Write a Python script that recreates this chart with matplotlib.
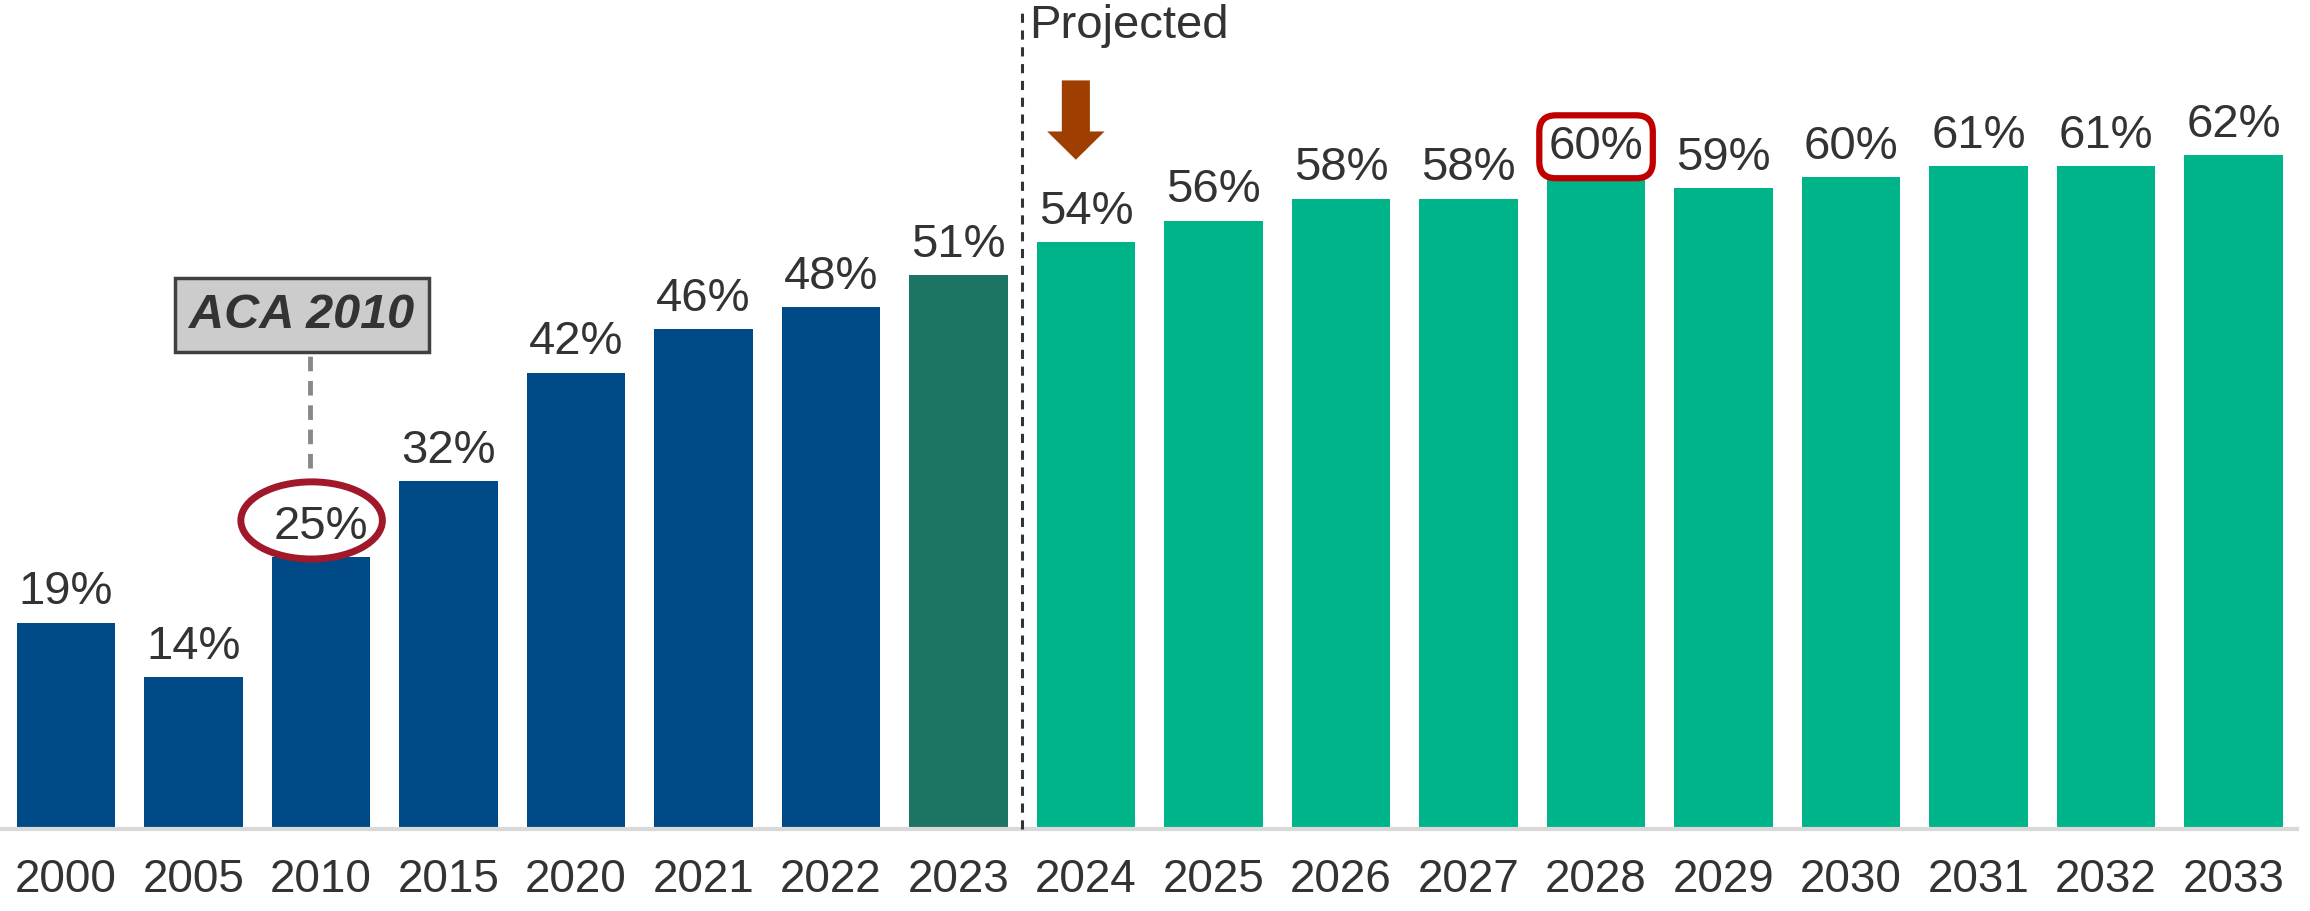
import matplotlib
matplotlib.use("Agg")
import matplotlib.pyplot as plt
from matplotlib.patches import Ellipse, FancyArrow

years = ["2000", "2005", "2010", "2015", "2020", "2021", "2022", "2023",
         "2024", "2025", "2026", "2027", "2028", "2029", "2030", "2031", "2032", "2033"]
values = [19, 14, 25, 32, 42, 46, 48, 51, 54, 56, 58, 58, 60, 59, 60, 61, 61, 62]
labels = [f"{v}%" for v in values]

BLUE = "#004B87"
TEAL = "#1B7562"
GREEN = "#00B48A"
colors = [BLUE] * 7 + [TEAL] + [GREEN] * 10
TXT = "#333333"

plt.rcParams['font.family'] = ['Liberation Sans', 'DejaVu Sans']

fig = plt.figure(figsize=(23.1, 9.11), dpi=100)
ax = fig.add_axes([0.001, 0.09, 0.9935, 0.91])
x = list(range(len(years)))
bars = ax.bar(x, values, width=0.77, color=colors, zorder=2)
ax.set_xlim(-0.5, len(years) - 0.5)
ax.set_ylim(0, 76.3)

for i, (b, lab) in enumerate(zip(bars, labels)):
    kw = {}
    if years[i] == "2028":
        kw["bbox"] = dict(boxstyle="round,pad=0.2,rounding_size=0.35", fc="white", ec="#C00000", lw=4.5)
    ax.annotate(lab, (b.get_x() + b.get_width() / 2, b.get_height()),
                xytext=(0, 6), textcoords="offset points", ha="center", va="bottom",
                fontsize=34, color=TXT, **kw)

# axis styling
for s in ["top", "right", "left"]:
    ax.spines[s].set_visible(False)
ax.spines["bottom"].set_color("#D9D9D9")
ax.spines["bottom"].set_linewidth(3)
ax.set_yticks([])
ax.set_xticks(x)
ax.set_xticklabels(years, fontsize=33, color=TXT)
ax.tick_params(axis="x", length=0, pad=21)

# projected divider
ax.plot([7.5, 7.5], [0, 75.3], ls=(0, (3, 2.5)), color="#333333", lw=2.2, zorder=3, clip_on=False)
ax.text(7.55, 73.9, "Projected", fontsize=34, color=TXT, ha="left", va="center")
ax.add_patch(FancyArrow(7.92, 68.9, 0, -7.3, width=0.22, head_width=0.45,
                        head_length=2.6, length_includes_head=True,
                        color="#9E3E00", lw=0, zorder=4))

# ACA annotation
ax.plot([1.91, 1.91], [33.2, 43.8], ls=(0, (3, 2)), color="#888888", lw=3.5, zorder=3)
ax.text(1.85, 47.3, "ACA 2010", fontsize=35, fontweight="bold", fontstyle="italic",
        color=TXT, ha="center", va="center",
        bbox=dict(boxstyle="square,pad=0.3", fc="#CCCCCC", ec="#404040", lw=2.5))
ax.add_patch(Ellipse((1.926, 28.4), 1.11, 7.1, fill=False, ec="#A0182A", lw=5, zorder=4))

fig.savefig("out.png", dpi=100)
